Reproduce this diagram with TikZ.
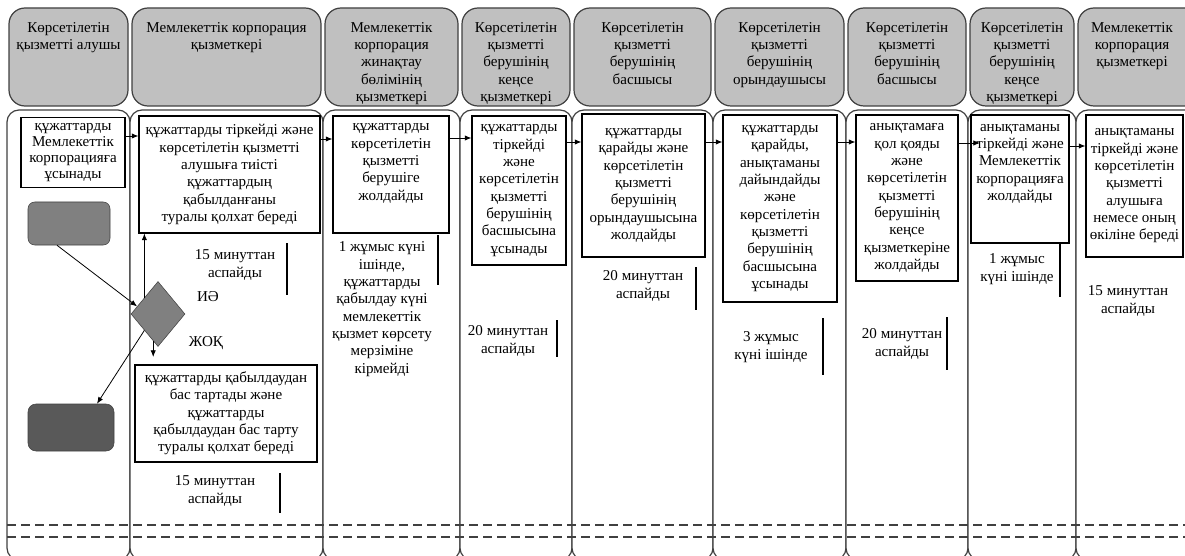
\documentclass[tikz,border=0pt]{standalone}
\usepackage{fontspec}
\setmainfont{Liberation Serif}
\usetikzlibrary{shapes.geometric,arrows.meta}
\definecolor{hdrgray}{RGB}{192,192,192}
\definecolor{linegray}{RGB}{64,64,64}
\definecolor{midgray}{RGB}{128,128,128}
\definecolor{endgray}{RGB}{89,89,89}
\tikzset{
  lane/.style={draw=linegray,line width=0.9pt,fill=white,rounded corners=9pt},
  hdr/.style={draw=linegray,line width=0.9pt,fill=hdrgray,rounded corners=12pt},
  hdtext/.style={anchor=north,align=center,inner sep=0.75pt},
  box/.style={draw,line width=0.8pt,fill=white,align=center,inner sep=1pt},
  timetext/.style={align=center,inner sep=0.75pt},
  timeline/.style={line width=0.8pt},
  arr/.style={-{Latex[length=5pt,width=4pt]},line width=0.6pt},
  dashline/.style={draw=linegray,line width=0.8pt,dash pattern=on 7pt off 3.5pt},
  startbox/.style={draw=linegray,fill=midgray,rounded corners=5pt,minimum width=61.5pt,minimum height=32.25pt},
  endbox/.style={draw=linegray,fill=endgray,rounded corners=6pt,minimum width=64.5pt,minimum height=35.25pt},
  decision/.style={diamond,draw=linegray,fill=midgray,minimum width=40.5pt,minimum height=48.75pt,inner sep=0pt}
}
\begin{document}
\begin{tikzpicture}[x=0.75pt,y=0.75pt,yscale=-1,xscale=1,font=\fontsize{11.3}{13}\selectfont]
\useasboundingbox (0,0) rectangle (1185,556);
\clip (0,0) rectangle (1185,556);
\draw [lane] (7,110) rectangle (130,560);
\draw [lane] (130,110) rectangle (323,560);
\draw [lane] (323,110) rectangle (460,560);
\draw [lane] (460,110) rectangle (572,560);
\draw [lane] (572,110) rectangle (713,560);
\draw [lane] (713,110) rectangle (846,560);
\draw [lane] (846,110) rectangle (968,560);
\draw [lane] (968,110) rectangle (1076,560);
\draw [lane] (1076,110) rectangle (1200,560);
\draw [hdr] (9,8) rectangle (128,106);
\draw [hdr] (132,8) rectangle (321,106);
\draw [hdr] (325,8) rectangle (458,106);
\draw [hdr] (462,8) rectangle (570,106);
\draw [hdr] (574,8) rectangle (711,106);
\draw [hdr] (715,8) rectangle (844,106);
\draw [hdr] (848,8) rectangle (966,106);
\draw [hdr] (970,8) rectangle (1074,106);
\draw [hdr] (1078,8) rectangle (1205,106);
\draw [dashline] (7,525) -- (1190,525);
\draw [dashline] (7,537) -- (1190,537);
\node [hdtext] (h1) at (68.5,21) {Көрсетілетін\\қызметті алушы};
\node [hdtext] (h2) at (226.5,21) {Мемлекеттік корпорация\\қызметкері};
\node [hdtext] (h3) at (391.5,21) {Мемлекеттік\\корпорация\\жинақтау\\бөлімінің\\қызметкері};
\node [hdtext] (h4) at (516,21) {Көрсетілетін\\қызметті\\берушінің\\кеңсе\\қызметкері};
\node [hdtext] (h5) at (642.5,21) {Көрсетілетін\\қызметті\\берушінің\\басшысы};
\node [hdtext] (h6) at (779.5,21) {Көрсетілетін\\қызметті\\берушінің\\орындаушысы};
\node [hdtext] (h7) at (907,21) {Көрсетілетін\\қызметті\\берушінің\\басшысы};
\node [hdtext] (h8) at (1022,21) {Көрсетілетін\\қызметті\\берушінің\\кеңсе\\қызметкері};
\node [hdtext] (h9) at (1132,21) {Мемлекеттік\\корпорация\\қызметкері};
\node [box,font=\fontsize{11.3}{12.2}\selectfont,minimum width=78pt,minimum height=52.5pt] (p1) at (73,152.5) {құжаттарды\\Мемлекеттік\\корпорацияға\\ұсынады};
\node [box,minimum width=135.75pt,minimum height=87.75pt] (p2) at (229.5,174.5) {құжаттарды тіркейді және\\көрсетілетін қызметті\\алушыға тиісті\\құжаттардың\\қабылданғаны\\туралы қолхат береді};
\node [box,minimum width=136.5pt,minimum height=72.75pt] (p3) at (226,413.5) {құжаттарды қабылдаудан\\бас тартады және\\құжаттарды\\қабылдаудан бас тарту\\туралы қолхат береді};
\node [box,minimum width=87pt,minimum height=87.75pt] (p4) at (391,174.5) {құжаттарды\\көрсетілетін\\қызметті\\берушіге\\жолдайды\\[6pt]\mbox{}};
\node [box,minimum width=70.5pt,minimum height=111.75pt] (p5) at (519,190.5) {құжаттарды\\тіркейді\\және\\көрсетілетін\\қызметті\\берушінің\\басшысына\\ұсынады};
\node [box,minimum width=92.25pt,minimum height=107.25pt] (p6) at (643.5,185.5) {құжаттарды\\қарайды және\\көрсетілетін\\қызметті\\берушінің\\орындаушысына\\жолдайды};
\node [box,minimum width=85.5pt,minimum height=140.25pt] (p7) at (780,208.5) {құжаттарды\\қарайды,\\анықтаманы\\дайындайды\\және\\көрсетілетін\\қызметті\\берушінің\\басшысына\\ұсынады};
\node [box,minimum width=76.5pt,minimum height=124.5pt] (p8) at (907,198) {анықтамаға\\қол қояды\\және\\көрсетілетін\\қызметті\\берушінің\\кеңсе\\қызметкеріне\\жолдайды};
\node [box,minimum width=73.5pt,minimum height=96pt] (p9) at (1020,179) {анықтаманы\\тіркейді және\\Мемлекеттік\\корпорацияға\\жолдайды\\[12pt]\mbox{}};
\node [box,minimum width=72.75pt,minimum height=106.5pt] (p10) at (1134.5,186) {анықтаманы\\тіркейді және\\көрсетілетін\\қызметті\\алушыға\\немесе оның\\өкіліне береді};
\node [startbox] (st) at (69,223.5) {};
\node [endbox] (fin) at (71,427.5) {};
\node [decision] (dec) at (158,314) {};
\node [inner sep=0.75pt] (yes) at (208,297) {ИӘ};
\node [inner sep=0.75pt] (no) at (206,343) {ЖОҚ};
\node [timetext] (t1) at (235,265) {15 минуттан\\аспайды};
\node [timetext] (t2) at (215,491) {15 минуттан\\аспайды};
\node [timetext] (t3) at (382,309) {1 жұмыс күні\\ішінде,\\құжаттарды\\қабылдау күні\\мемлекеттік\\қызмет көрсету\\мерзіміне\\кірмейді};
\node [timetext] (t4) at (508,341) {20 минуттан\\аспайды};
\node [timetext] (t5) at (643,286) {20 минуттан\\аспайды};
\node [timetext] (t6) at (771,347) {3 жұмыс\\күні ішінде};
\node [timetext] (t7) at (902,344) {20 минуттан\\аспайды};
\node [timetext] (t8) at (1017,269) {1 жұмыс\\күні ішінде};
\node [timetext] (t9) at (1128,301) {15 минуттан\\аспайды};
\draw [timeline] (287,243) -- (287,295);
\draw [timeline] (280,473) -- (280,513);
\draw [timeline] (438,235) -- (438,285);
\draw [timeline] (557,320) -- (557,357);
\draw [timeline] (696,267) -- (696,310);
\draw [timeline] (823,318) -- (823,375);
\draw [timeline] (947,317) -- (947,370);
\draw [timeline] (1060,243) -- (1060,297);
\coordinate (r1) at (130,136);
\coordinate (r2) at (323,139);
\coordinate (r3) at (460,138);
\coordinate (r4) at (572,142);
\coordinate (r5) at (713,142);
\coordinate (r6) at (846,142);
\coordinate (r7) at (980,143);
\coordinate (r8) at (1076,146);
\coordinate (nodown) at (153,357);
\draw [arr] (p1.east |- r1) -- (p2.west |- r1);
\draw [arr] (p2.east |- r2) -- (p4.west |- r2);
\draw [arr] (p4.east |- r3) -- (p5.west |- r3);
\draw [arr] (p5.east |- r4) -- (p6.west |- r4);
\draw [arr] (p6.east |- r5) -- (p7.west |- r5);
\draw [arr] (p7.east |- r6) -- (p8.west |- r6);
\draw [arr] (p8.east |- r7) -- (r7);
\draw [arr] (p9.east |- r8) -- (p10.west |- r8);
\draw [arr] ([xshift=-9pt]st.south) -- (dec.160);
\draw [arr] (dec.north west) -- (dec.north west |- p2.south);
\draw [arr] (dec.-100) -- (dec.-100 |- nodown);
\draw [arr] (dec.south west) -- ([xshift=19.5pt]fin.north);
\end{tikzpicture}
\end{document}
